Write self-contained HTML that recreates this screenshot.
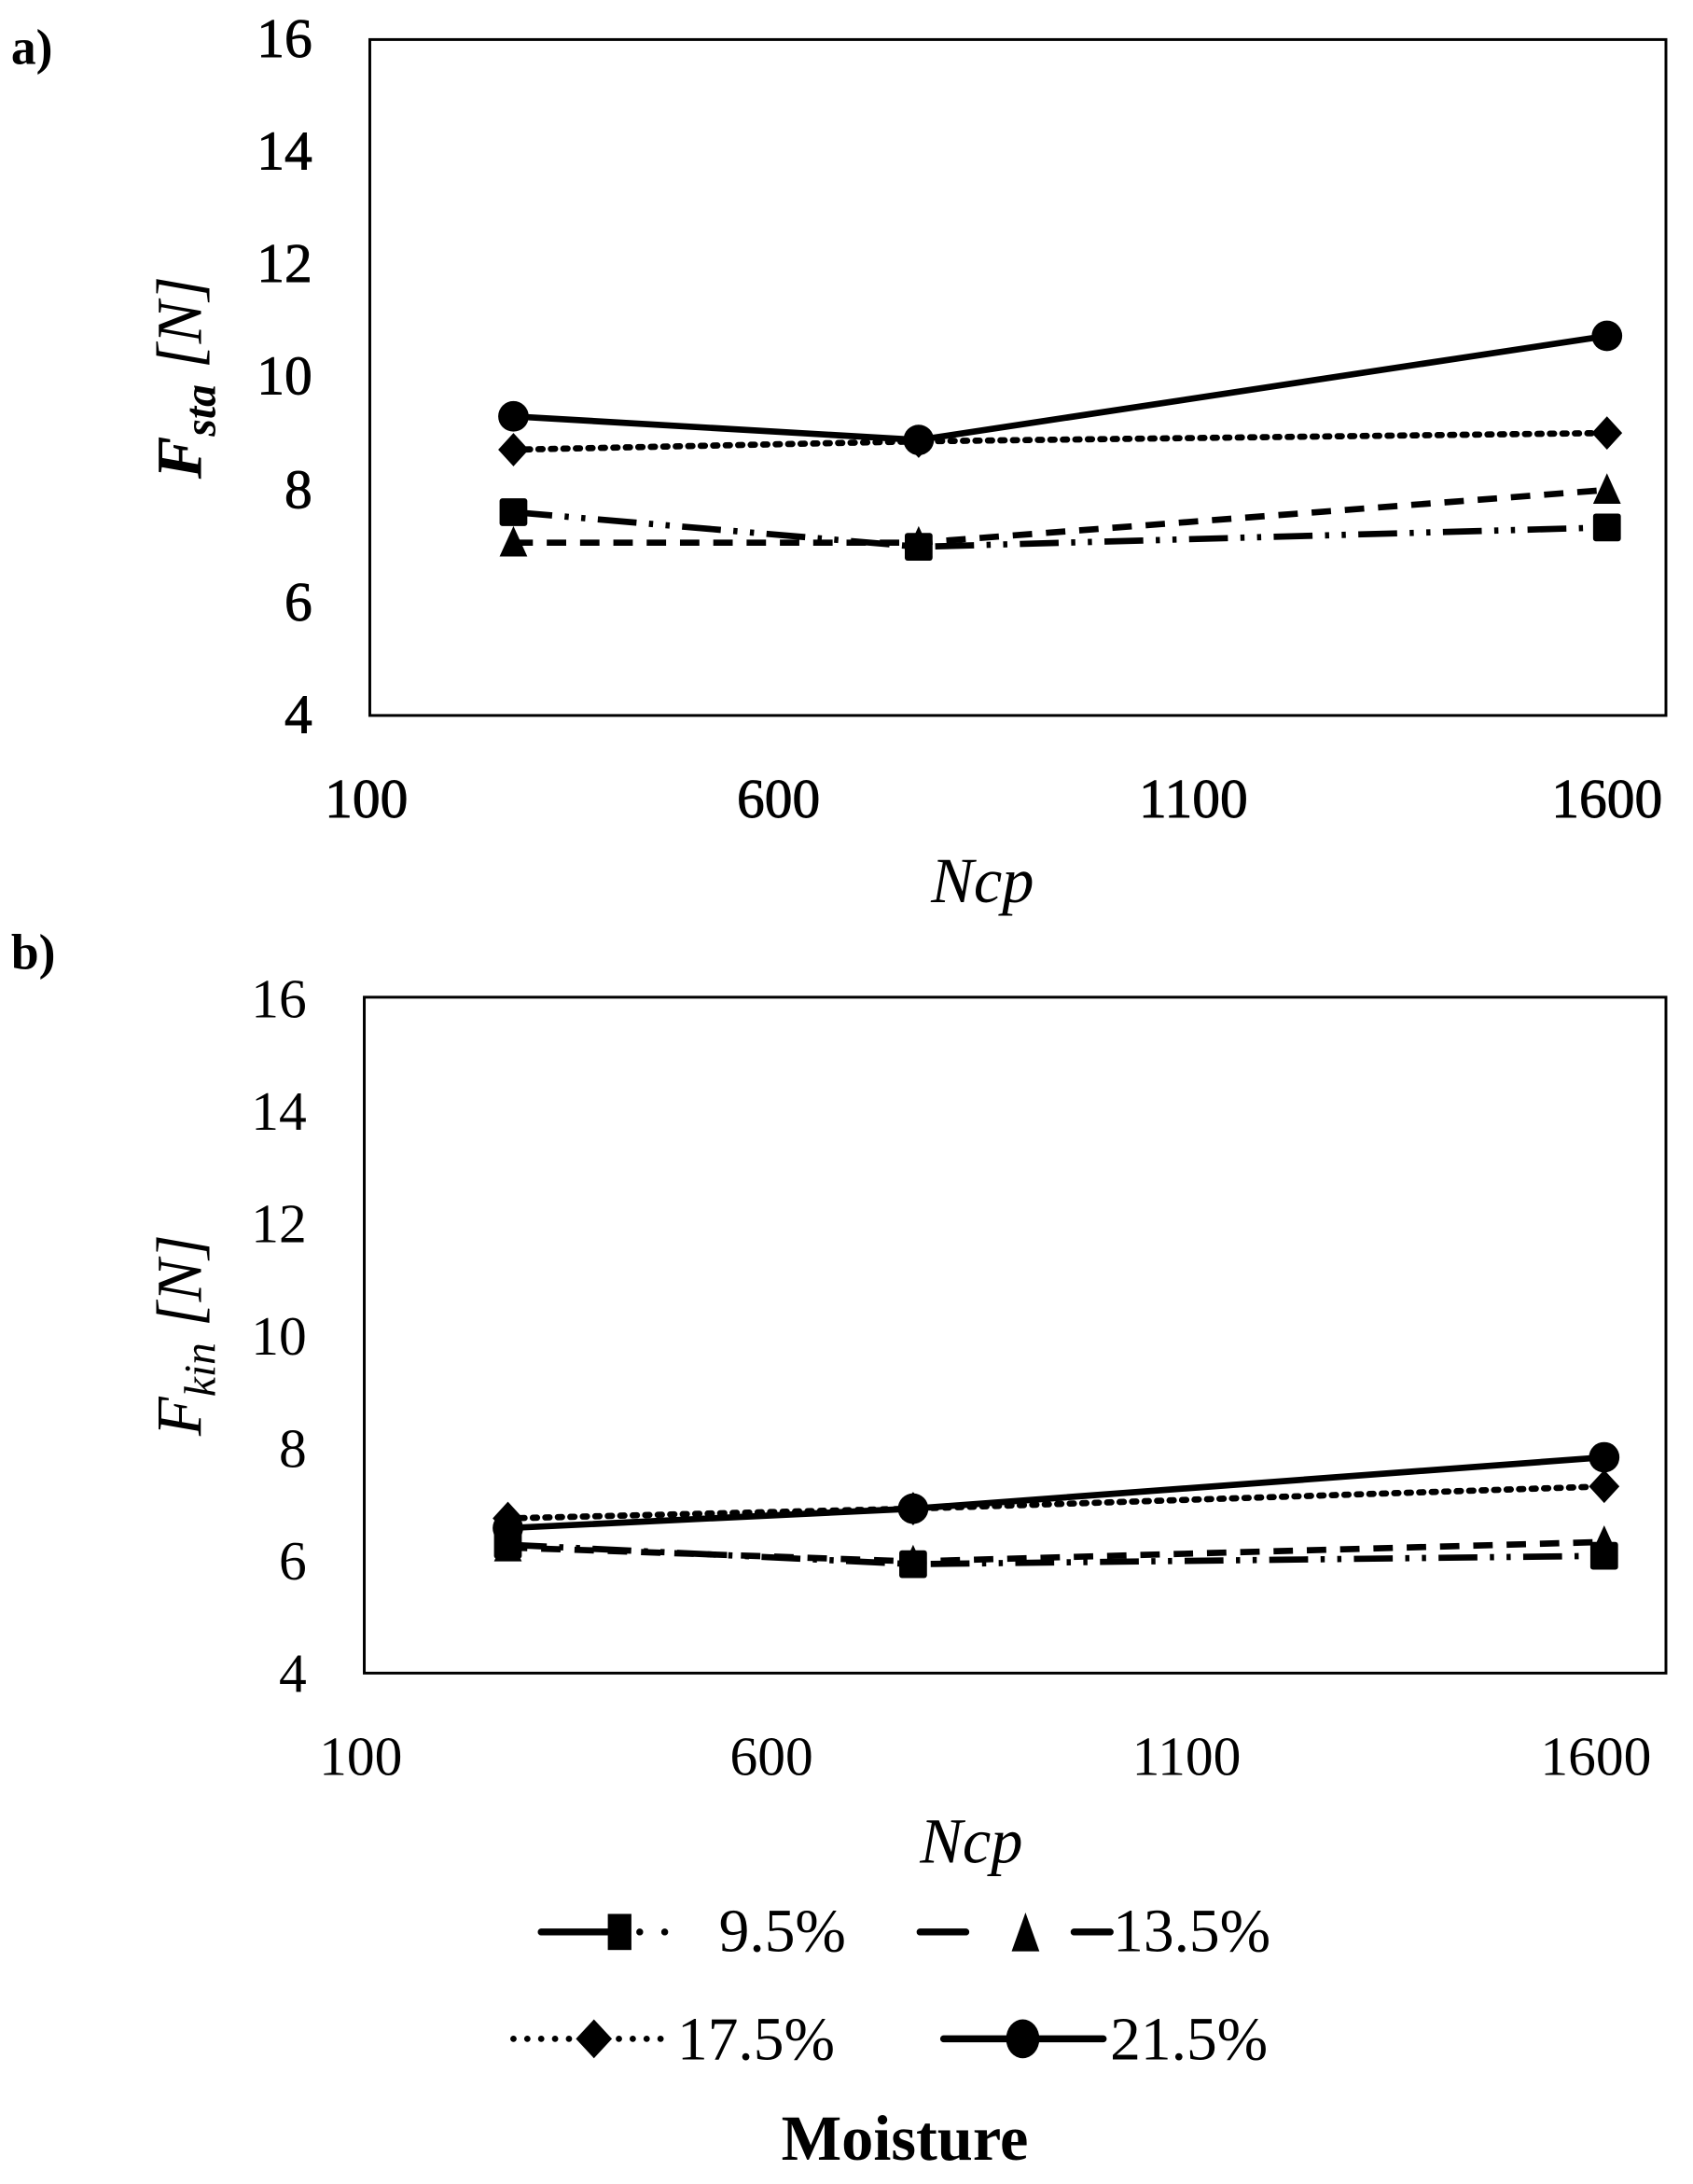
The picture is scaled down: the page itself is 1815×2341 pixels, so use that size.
<!DOCTYPE html>
<html><head><meta charset="utf-8"><style>
html,body{margin:0;padding:0;background:#fff;}
svg{display:block;}
text{font-family:"Liberation Serif",serif;fill:#000;}
</style></head><body>
<svg width="1815" height="2341" viewBox="0 0 1220 1573.6" preserveAspectRatio="none">
<defs>
<g id="sq"><rect x="-10" y="-10" width="20" height="20" rx="2"/></g>
<g id="tr"><path d="M0,-12 L10,10 L-10,10 Z"/></g>
<g id="di"><path d="M0,-12 L11,0 L0,12 L-11,0 Z"/></g>
<g id="ci"><circle r="11"/></g>
</defs>
<text x="8" y="46" font-size="36" font-weight="bold">a)</text>
<text x="8" y="698" font-size="36" font-weight="bold">b)</text>

<!-- Panel a -->
<rect x="266.5" y="28.5" width="934" height="487" fill="none" stroke="#000" stroke-width="2"/>
<g font-size="40" text-anchor="end" stroke="#000" stroke-width="0.6">
<text x="225" y="41">16</text><text x="225" y="122">14</text><text x="225" y="203">12</text>
<text x="225" y="284">10</text><text x="225" y="366">8</text><text x="225" y="447">6</text><text x="225" y="528">4</text>
</g>
<g font-size="40" text-anchor="middle" stroke="#000" stroke-width="0.6">
<text x="264" y="589">100</text><text x="561" y="589">600</text><text x="860" y="589">1100</text><text x="1158" y="589">1600</text>
</g>
<text x="708" y="650" font-size="46" font-style="italic" text-anchor="middle">Ncp</text>
<text transform="translate(145,272) rotate(-90)" font-size="46" font-style="italic" text-anchor="middle"><tspan font-weight="bold">F</tspan><tspan font-size="32" dy="10" font-weight="bold">sta</tspan><tspan dy="-10"> [N]</tspan></text>
<g fill="none" stroke="#000" stroke-width="4.5">
<polyline points="370,369 662,394 1158,380" stroke-dasharray="28 9 3 9 3 9"/>
<polyline points="370,391 662,391 1158,353" stroke-dasharray="14 10"/>
<polyline points="370,324 662,318 1158,312" stroke-dasharray="3 6" stroke-linecap="round"/>
<polyline points="370,300 662,317 1158,242"/>
</g>
<use href="#sq" x="370" y="369"/><use href="#sq" x="662" y="394"/><use href="#sq" x="1158" y="380"/>
<use href="#tr" x="370" y="391"/><use href="#tr" x="662" y="391"/><use href="#tr" x="1158" y="353"/>
<use href="#di" x="370" y="324"/><use href="#di" x="662" y="318"/><use href="#di" x="1158" y="312"/>
<use href="#ci" x="370" y="300"/><use href="#ci" x="662" y="317"/><use href="#ci" x="1158" y="242"/>

<!-- Panel b -->
<rect x="262.5" y="718.5" width="938" height="487" fill="none" stroke="#000" stroke-width="2"/>
<g font-size="40" text-anchor="end">
<text x="221" y="733">16</text><text x="221" y="814">14</text><text x="221" y="895">12</text>
<text x="221" y="976">10</text><text x="221" y="1057">8</text><text x="221" y="1138">6</text><text x="221" y="1219">4</text>
</g>
<g font-size="40" text-anchor="middle">
<text x="260" y="1279">100</text><text x="556" y="1279">600</text><text x="855" y="1279">1100</text><text x="1150" y="1279">1600</text>
</g>
<text x="700" y="1342" font-size="46" font-style="italic" text-anchor="middle">Ncp</text>
<text transform="translate(145,962) rotate(-90)" font-size="46" font-style="italic" text-anchor="middle">F<tspan font-size="32" dy="10">kin</tspan><tspan dy="-10"> [N]</tspan></text>
<g fill="none" stroke="#000" stroke-width="4.5">
<polyline points="366,1113 658,1127 1156,1121" stroke-dasharray="28 9 3 9 3 9"/>
<polyline points="366,1115 658,1125 1156,1111" stroke-dasharray="14 10"/>
<polyline points="366,1094 658,1087 1156,1071" stroke-dasharray="3 6" stroke-linecap="round"/>
<polyline points="366,1101 658,1087 1156,1050"/>
</g>
<use href="#sq" x="366" y="1113"/><use href="#sq" x="658" y="1127"/><use href="#sq" x="1156" y="1121"/>
<use href="#tr" x="366" y="1115"/><use href="#tr" x="658" y="1125"/><use href="#tr" x="1156" y="1111"/>
<use href="#di" x="366" y="1094"/><use href="#di" x="658" y="1087"/><use href="#di" x="1156" y="1071"/>
<use href="#ci" x="366" y="1101"/><use href="#ci" x="658" y="1087"/><use href="#ci" x="1156" y="1050"/>

<!-- Legend -->
<g fill="none" stroke="#000" stroke-width="5" stroke-linecap="round">
<line x1="390" y1="1392" x2="440" y2="1392"/>
<line x1="663" y1="1392" x2="696" y2="1392"/>
<line x1="774" y1="1392" x2="800" y2="1392"/>
<line x1="680" y1="1469" x2="795" y2="1469"/>
</g>
<circle cx="461" cy="1392" r="2.5"/><circle cx="479" cy="1392" r="2.5"/>
<g><circle cx="370" cy="1469" r="2.3"/><circle cx="380" cy="1469" r="2.3"/><circle cx="390" cy="1469" r="2.3"/><circle cx="400" cy="1469" r="2.3"/><circle cx="410" cy="1469" r="2.3"/><circle cx="446" cy="1469" r="2.3"/><circle cx="456" cy="1469" r="2.3"/><circle cx="466" cy="1469" r="2.3"/><circle cx="476" cy="1469" r="2.3"/></g>
<rect x="438" y="1379" width="17" height="26"/>
<path d="M739,1378 L749,1406 L729,1406 Z"/>
<path d="M428,1455 L441,1469 L428,1483 L415,1469 Z"/>
<ellipse cx="737" cy="1469" rx="12" ry="14"/>
<g font-size="44">
<text x="518" y="1406">9.5%</text>
<text x="802" y="1406">13.5%</text>
<text x="488" y="1484">17.5%</text>
<text x="800" y="1484">21.5%</text>
</g>
<text x="652" y="1556" font-size="46" font-weight="bold" text-anchor="middle">Moisture</text>
</svg>
</body></html>
